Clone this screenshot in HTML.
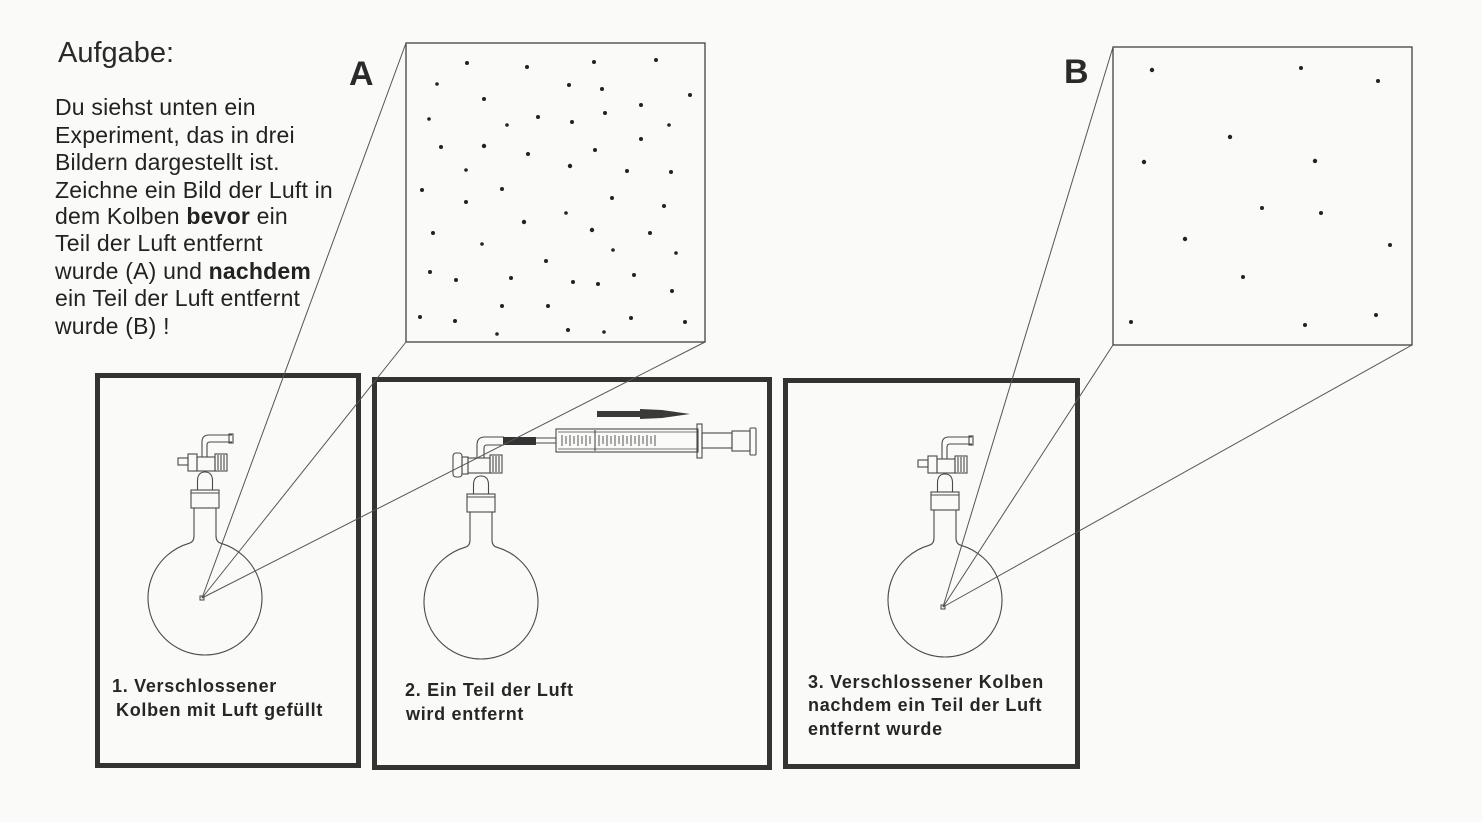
<!DOCTYPE html>
<html>
<head>
<meta charset="utf-8">
<style>
  html,body{margin:0;padding:0;background:#fafaf8;}
  svg{display:block;}
  text{font-family:"Liberation Sans",Arial,sans-serif;}
</style>
</head>
<body>
<svg width="1482" height="822" viewBox="0 0 1482 822" xmlns="http://www.w3.org/2000/svg">
  <rect width="1482" height="822" fill="#fafaf8"/>

  <defs>
    <!-- flask body relative to circle center -->
    <g id="fbody" fill="none" stroke="#4a4a4a" stroke-width="1.1">
      <path d="M -11,-90 L -11,-62 Q -11,-56 -16,-54.7 A 57 57 0 1 0 16,-54.7 Q 11,-56 11,-62 L 11,-90"/>
      <rect x="-14" y="-108" width="28" height="18"/>
      <line x1="-14" y1="-105" x2="14" y2="-105"/>
      <path d="M -7.5,-108 L -7.5,-117 Q -7.5,-126 0,-126 Q 7.5,-126 7.5,-117 L 7.5,-108"/>
    </g>
    <!-- stopcock type 1 (flask 1 & 3) -->
    <g id="cock1" fill="none" stroke="#4a4a4a" stroke-width="1.1">
      <rect x="-27" y="-140" width="10" height="7"/>
      <rect x="-17" y="-144" width="9" height="17"/>
      <rect x="-8" y="-141" width="18" height="14"/>
      <rect x="10" y="-144" width="12" height="17"/>
      <line x1="13" y1="-143" x2="13" y2="-128"/>
      <line x1="16" y1="-143" x2="16" y2="-128"/>
      <line x1="19" y1="-143" x2="19" y2="-128"/>
      <path d="M -3,-141 L -3,-156 Q -3,-163 4,-163 L 27,-163"/>
      <path d="M 2,-141 L 2,-153 Q 2,-156 5,-156 L 27,-156"/>
      <rect x="24" y="-164" width="4" height="9"/>
    </g>
  </defs>

  <!-- Instruction text -->
  <text x="58" y="62" font-size="29" fill="#2a2a2a">Aufgabe:</text>
  <g font-size="23" fill="#222" letter-spacing="0.2">
    <text x="55" y="115">Du siehst unten ein</text>
    <text x="55" y="143">Experiment, das in drei</text>
    <text x="55" y="170">Bildern dargestellt ist.</text>
    <text x="55" y="198">Zeichne ein Bild der Luft in</text>
    <text x="55" y="224">dem Kolben <tspan font-weight="bold">bevor</tspan> ein</text>
    <text x="55" y="251">Teil der Luft entfernt</text>
    <text x="55" y="279">wurde (A) und <tspan font-weight="bold">nachdem</tspan></text>
    <text x="55" y="306">ein Teil der Luft entfernt</text>
    <text x="55" y="334">wurde (B) !</text>
  </g>

  <!-- A / B labels -->
  <text x="349" y="85" font-size="34" font-weight="bold" fill="#2a2a2a">A</text>
  <text x="1064" y="83" font-size="34" font-weight="bold" fill="#2a2a2a">B</text>

  <!-- Square A -->
  <rect x="406" y="43" width="299" height="299" fill="none" stroke="#333" stroke-width="1.2"/>
  <g fill="#222">
    <circle cx="467" cy="63" r="2"/><circle cx="527" cy="67" r="2"/><circle cx="594" cy="62" r="2"/>
    <circle cx="656" cy="60" r="2"/><circle cx="437" cy="84" r="1.8"/><circle cx="569" cy="85" r="2"/>
    <circle cx="602" cy="89" r="2"/><circle cx="690" cy="95" r="2"/><circle cx="484" cy="99" r="2"/>
    <circle cx="641" cy="105" r="2"/><circle cx="429" cy="119" r="1.8"/><circle cx="538" cy="117" r="2"/>
    <circle cx="572" cy="122" r="2"/><circle cx="605" cy="113" r="2"/><circle cx="507" cy="125" r="1.8"/>
    <circle cx="669" cy="125" r="1.8"/><circle cx="641" cy="139" r="2"/><circle cx="441" cy="147" r="2"/>
    <circle cx="484" cy="146" r="2.2"/><circle cx="528" cy="154" r="2"/><circle cx="595" cy="150" r="2"/>
    <circle cx="570" cy="166" r="2.2"/><circle cx="466" cy="170" r="1.8"/><circle cx="627" cy="171" r="2"/>
    <circle cx="671" cy="172" r="2"/><circle cx="422" cy="190" r="2"/><circle cx="502" cy="189" r="2"/>
    <circle cx="466" cy="202" r="2"/><circle cx="612" cy="198" r="2"/><circle cx="664" cy="206" r="2"/>
    <circle cx="566" cy="213" r="1.8"/><circle cx="524" cy="222" r="2.2"/><circle cx="592" cy="230" r="2.2"/>
    <circle cx="433" cy="233" r="2"/><circle cx="650" cy="233" r="2"/><circle cx="482" cy="244" r="1.8"/>
    <circle cx="613" cy="250" r="1.8"/><circle cx="676" cy="253" r="1.8"/><circle cx="546" cy="261" r="2"/>
    <circle cx="430" cy="272" r="2"/><circle cx="634" cy="275" r="2"/><circle cx="456" cy="280" r="2"/>
    <circle cx="511" cy="278" r="2"/><circle cx="573" cy="282" r="2"/><circle cx="598" cy="284" r="2"/>
    <circle cx="672" cy="291" r="2"/><circle cx="502" cy="306" r="2"/><circle cx="548" cy="306" r="2"/>
    <circle cx="420" cy="317" r="2"/><circle cx="455" cy="321" r="2"/><circle cx="631" cy="318" r="2"/>
    <circle cx="685" cy="322" r="2"/><circle cx="497" cy="334" r="1.8"/><circle cx="568" cy="330" r="2"/>
    <circle cx="604" cy="332" r="1.8"/>
  </g>

  <!-- Square B -->
  <rect x="1113" y="47" width="299" height="298" fill="none" stroke="#333" stroke-width="1.2"/>
  <g fill="#222">
    <circle cx="1152" cy="70" r="2.2"/><circle cx="1301" cy="68" r="2"/><circle cx="1378" cy="81" r="2"/>
    <circle cx="1230" cy="137" r="2.2"/><circle cx="1144" cy="162" r="2.2"/><circle cx="1315" cy="161" r="2.2"/>
    <circle cx="1262" cy="208" r="2"/><circle cx="1321" cy="213" r="2"/><circle cx="1185" cy="239" r="2.2"/>
    <circle cx="1390" cy="245" r="2"/><circle cx="1243" cy="277" r="2"/><circle cx="1131" cy="322" r="2"/>
    <circle cx="1305" cy="325" r="2"/><circle cx="1376" cy="315" r="2"/>
  </g>

  <!-- Boxes -->
  <g fill="none" stroke="#333" stroke-width="5">
    <rect x="97.5" y="375.5" width="261" height="390"/>
    <rect x="374.5" y="379.5" width="395" height="388"/>
    <rect x="785.5" y="380.5" width="292" height="386"/>
  </g>

  <!-- Flask 1 -->
  <use href="#fbody" x="205" y="598"/>
  <use href="#cock1" x="205" y="598"/>
  <rect x="200" y="596" width="4" height="4" fill="none" stroke="#444" stroke-width="1"/>

  <!-- Flask 2 -->
  <use href="#fbody" x="481" y="602"/>
  <g fill="none" stroke="#4a4a4a" stroke-width="1.1">
    <rect x="453" y="453" width="9" height="24" rx="3"/>
    <rect x="462" y="457" width="6" height="17"/>
    <rect x="468" y="458" width="22" height="15"/>
    <rect x="490" y="455" width="12" height="18"/>
    <line x1="493" y1="456" x2="493" y2="472"/>
    <line x1="496" y1="456" x2="496" y2="472"/>
    <line x1="499" y1="456" x2="499" y2="472"/>
    <path d="M 477,458 L 477,445 Q 477,437 485,437 L 504,437"/>
    <path d="M 484,458 L 484,448 Q 484,445 487,445 L 504,445"/>
    <!-- thin tube -->
    <line x1="536" y1="438" x2="556" y2="438"/>
    <line x1="536" y1="443" x2="556" y2="443"/>
    <!-- barrel -->
    <rect x="556" y="429" width="142" height="23"/>
    <line x1="558" y1="432" x2="697" y2="432" stroke-width="0.8"/>
    <line x1="558" y1="449" x2="697" y2="449" stroke-width="0.8"/>
    <line x1="595" y1="430" x2="595" y2="451"/>
    <!-- flange -->
    <rect x="697" y="424" width="5" height="34"/>
    <!-- plunger -->
    <rect x="702" y="433" width="30" height="15"/>
    <rect x="732" y="431" width="18" height="20"/>
    <rect x="750" y="428" width="6" height="27" rx="1"/>
  </g>
  <!-- graduations -->
  <g stroke="#555" stroke-width="1">
    <line x1="562" y1="435" x2="562" y2="446"/><line x1="566" y1="436" x2="566" y2="444"/>
    <line x1="570" y1="435" x2="570" y2="446"/><line x1="574" y1="436" x2="574" y2="444"/>
    <line x1="578" y1="435" x2="578" y2="446"/><line x1="582" y1="436" x2="582" y2="444"/>
    <line x1="586" y1="435" x2="586" y2="446"/><line x1="590" y1="436" x2="590" y2="444"/>
    <line x1="599" y1="435" x2="599" y2="446"/><line x1="603" y1="436" x2="603" y2="444"/>
    <line x1="607" y1="435" x2="607" y2="446"/><line x1="611" y1="436" x2="611" y2="444"/>
    <line x1="615" y1="435" x2="615" y2="446"/><line x1="619" y1="436" x2="619" y2="444"/>
    <line x1="623" y1="435" x2="623" y2="446"/><line x1="627" y1="436" x2="627" y2="444"/>
    <line x1="631" y1="435" x2="631" y2="446"/><line x1="635" y1="436" x2="635" y2="444"/>
    <line x1="639" y1="435" x2="639" y2="446"/><line x1="643" y1="436" x2="643" y2="444"/>
    <line x1="647" y1="435" x2="647" y2="446"/><line x1="651" y1="436" x2="651" y2="444"/>
    <line x1="655" y1="435" x2="655" y2="446"/>
  </g>
  <!-- dark tubing -->
  <rect x="503" y="437" width="33" height="8" fill="#333"/>
  <!-- arrow -->
  <polygon points="597,411 640,411 640,409 662,410 690,414 662,418 640,419 640,417 597,417" fill="#3a3a3a"/>

  <!-- Flask 3 -->
  <use href="#fbody" x="945" y="600"/>
  <use href="#cock1" x="945" y="600"/>
  <rect x="941" y="605" width="4" height="4" fill="none" stroke="#444" stroke-width="1"/>

  <!-- Projection lines -->
  <g stroke="#555" stroke-width="1" fill="none">
    <line x1="202" y1="598" x2="406" y2="43"/>
    <line x1="202" y1="598" x2="406" y2="342"/>
    <line x1="202" y1="598" x2="705" y2="342"/>
    <line x1="943" y1="607" x2="1113" y2="47"/>
    <line x1="943" y1="607" x2="1113" y2="345"/>
    <line x1="943" y1="607" x2="1412" y2="345"/>
  </g>

  <!-- Box labels -->
  <g font-size="18" font-weight="bold" fill="#262626" letter-spacing="0.7">
    <text x="112" y="692">1. Verschlossener</text>
    <text x="116" y="716">Kolben mit Luft gefüllt</text>
    <text x="405" y="696">2. Ein Teil der Luft</text>
    <text x="406" y="720">wird entfernt</text>
    <text x="808" y="688">3.  Verschlossener Kolben</text>
    <text x="808" y="711">nachdem ein Teil der Luft</text>
    <text x="808" y="735">entfernt wurde</text>
  </g>
</svg>
</body>
</html>
